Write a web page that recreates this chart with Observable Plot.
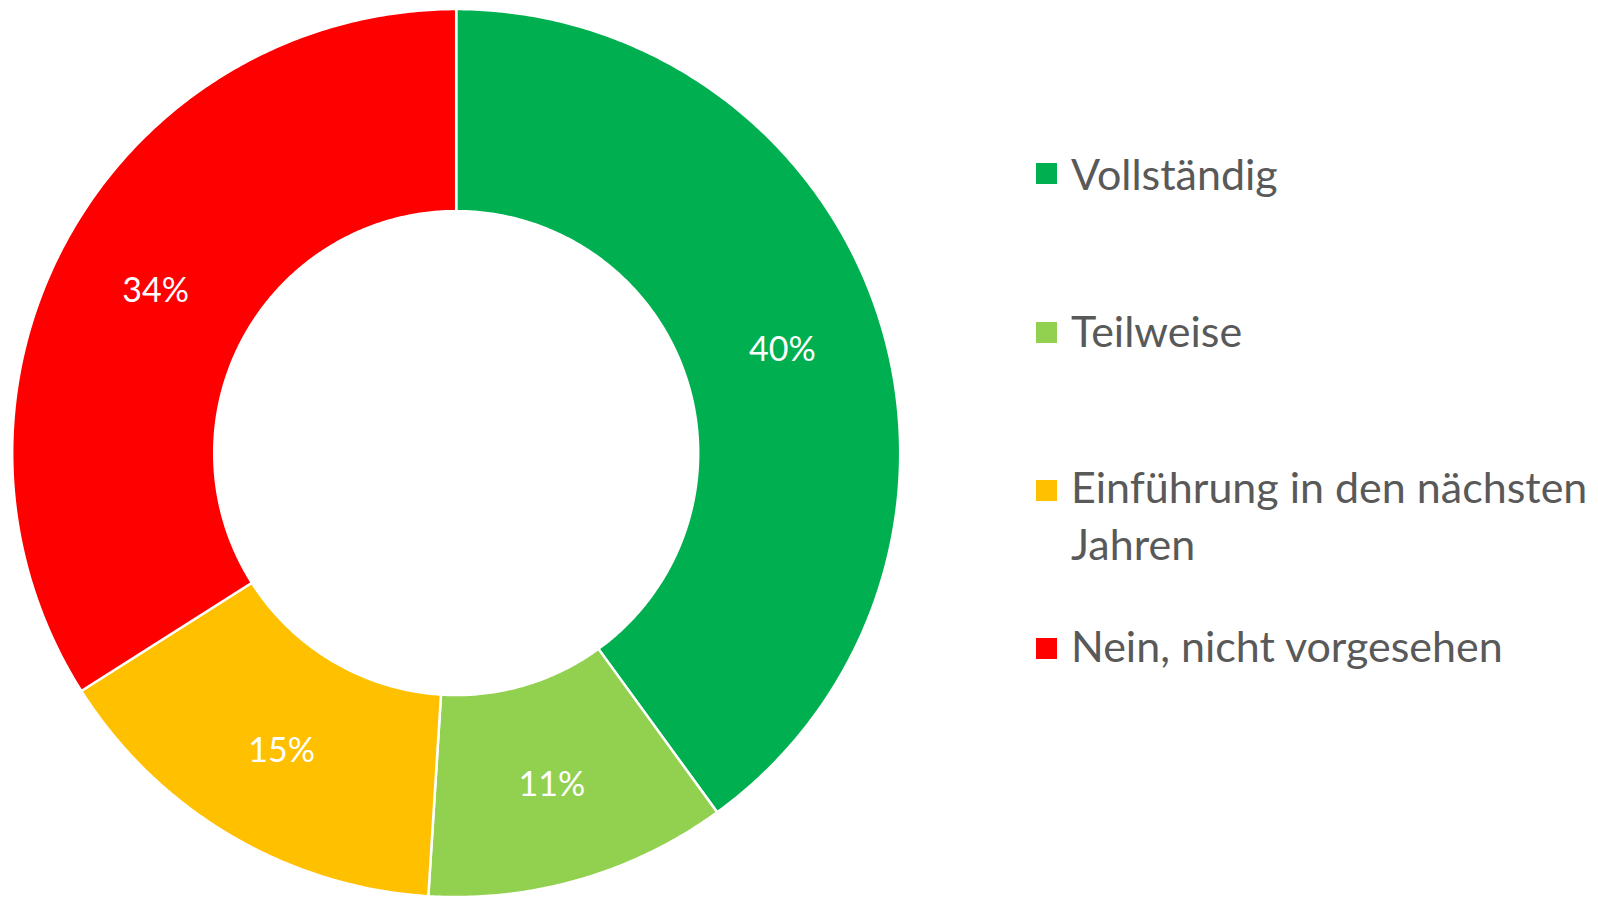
<!DOCTYPE html>
<html><head><meta charset="utf-8">
<script src="https://cdn.jsdelivr.net/npm/d3@7"></script>
<script src="https://cdn.jsdelivr.net/npm/@observablehq/plot@0.6"></script>
<style>
body{margin:0;background:#fff;}
#wrap{position:relative;width:1598px;height:897px;overflow:hidden;font-family:Lato,"Noto Sans",sans-serif;}
.item{position:absolute;color:#595959;font-size:43px;line-height:57.4px;white-space:nowrap;}
.sw{position:absolute;width:21px;height:21px;}
</style></head><body><div id="wrap"></div>
<script>
const categories = ["Vollständig","Teilweise","Einführung in den nächsten Jahren","Nein, nicht vorgesehen"];
const legendLines = [["Vollständig"],["Teilweise"],["Einführung in den nächsten","Jahren"],["Nein, nicht vorgesehen"]];
const values = [40, 11, 15, 34];
const labels = ["40%", "11%", "15%", "34%"];
const colors = ["#00B050", "#92D050", "#FFC000", "#FF0000"];

const innerRatio = 0.545;
const arcs = d3.pie().sort(null).value(d => d)(values);

// polygon vertices per slice, derived from pie angles
const pts = [];
arcs.forEach((a, i) => {
  const n = Math.max(2, Math.ceil((a.endAngle - a.startAngle) / (Math.PI / 360)));
  const outer = d3.range(n + 1).map(k => a.startAngle + (a.endAngle - a.startAngle) * k / n);
  outer.forEach(t => pts.push({cat: categories[i], x: Math.sin(t), y: Math.cos(t)}));
  outer.slice().reverse().forEach(t => pts.push({cat: categories[i], x: innerRatio * Math.sin(t), y: innerRatio * Math.cos(t)}));
});
const mid = (1 + innerRatio) / 2;
const labelData = arcs.map((a, i) => {
  const t = (a.startAngle + a.endAngle) / 2;
  return {label: labels[i], x: mid * Math.sin(t), y: mid * Math.cos(t)};
});

const cx = 455.7, cy = 452.6, R = 444, W = 1598, H = 897;
const chart = Plot.plot({
  width: W, height: H,
  marginLeft: cx - R, marginRight: W - (cx + R), marginTop: cy - R, marginBottom: H - (cy + R),
  x: {domain: [-1, 1], axis: null},
  y: {domain: [-1, 1], axis: null},
  color: {domain: categories, range: colors},
  style: {fontFamily: 'Lato, "Noto Sans", sans-serif', background: "white"},
  marks: [
    Plot.line(pts, {x: "x", y: "y", z: "cat", fill: "cat", stroke: "white", strokeWidth: 2.5, curve: "linear-closed"}),
    Plot.text(labelData, {x: "x", y: "y", text: "label", fill: "white", fontSize: 34, dy: 3})
  ]
});
const wrap = document.getElementById("wrap");
wrap.appendChild(chart);

// legend (HTML overlay on the right)
const swTops = [163.3, 322, 480, 638.3];
const baselines = [190.7, 347, 503.3, 662.7];
legendLines.forEach((lines, i) => {
  const sw = document.createElement("div");
  sw.className = "sw";
  sw.style.left = "1036px";
  sw.style.top = swTops[i] + "px";
  sw.style.background = colors[i];
  wrap.appendChild(sw);
  const it = document.createElement("div");
  it.className = "item";
  it.style.left = "1071px";
  it.style.top = (baselines[i] - 45.3) + "px";
  it.innerHTML = lines.map(l => `<div>${l}</div>`).join("");
  wrap.appendChild(it);
});
</script>
</body></html>
